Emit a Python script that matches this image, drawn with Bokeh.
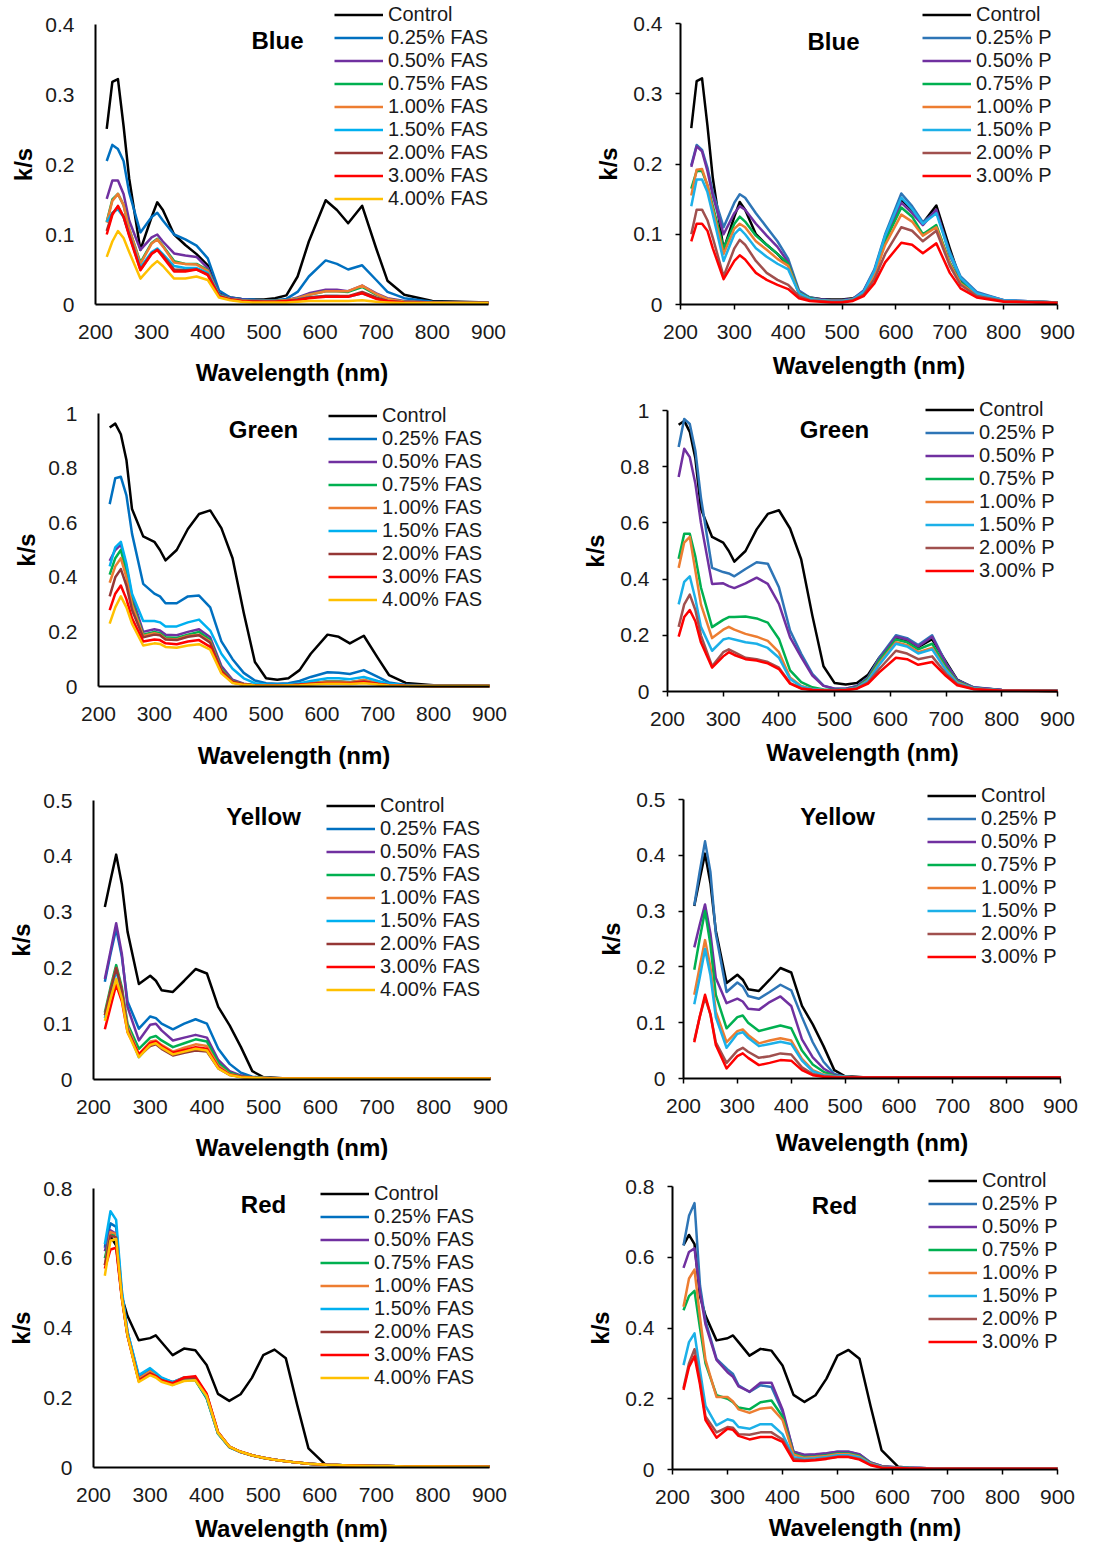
import math
from bokeh.plotting import figure
from bokeh.layouts import row, column
from bokeh.models import Range1d, FixedTicker, CustomJSTickFormatter, Legend, LegendItem, Label
from bokeh.embed import file_html
from bokeh.resources import INLINE

# ---------------- data ----------------
WAVELENGTH = [220, 230, 240, 250, 260, 280, 300, 310, 320, 340, 360, 380, 400, 420, 440,
              460, 480, 500, 520, 540, 560, 580, 610, 630, 650, 675, 700, 720, 750, 800, 900]
X_TICKS = [200, 300, 400, 500, 600, 700, 800, 900]

FAS_LABELS = ["Control", "0.25% FAS", "0.50% FAS", "0.75% FAS", "1.00% FAS",
              "1.50% FAS", "2.00% FAS", "3.00% FAS", "4.00% FAS"]
P_LABELS = ["Control", "0.25% P", "0.50% P", "0.75% P", "1.00% P",
            "1.50% P", "2.00% P", "3.00% P"]
FAS_COLORS = ["#000000", "#0070C0", "#7030A0", "#00B050", "#ED7D31",
              "#00B0F0", "#953735", "#FF0000", "#FFC000"]
P_COLORS = ["#000000", "#2E75B6", "#7030A0", "#00B050", "#ED7D31",
            "#1CB0E8", "#A0504E", "#FF0000"]

# Blue
BLUE_CONTROL = [0.251, 0.318, 0.322, 0.255, 0.180, 0.078, 0.125, 0.146, 0.135, 0.100, 0.085, 0.072, 0.056, 0.016, 0.010,
                0.008, 0.007, 0.007, 0.009, 0.013, 0.040, 0.090, 0.149, 0.135, 0.116, 0.141, 0.080, 0.034, 0.014, 0.005, 0.003]
BF025 = [0.205, 0.228, 0.222, 0.205, 0.160, 0.103, 0.125, 0.131, 0.120, 0.100, 0.093, 0.084, 0.066, 0.020, 0.010,
         0.008, 0.007, 0.006, 0.006, 0.008, 0.018, 0.040, 0.063, 0.058, 0.050, 0.056, 0.035, 0.018, 0.009, 0.004, 0.002]
BF050 = [0.151, 0.177, 0.177, 0.158, 0.120, 0.078, 0.096, 0.100, 0.090, 0.073, 0.070, 0.068, 0.052, 0.015, 0.009,
         0.007, 0.006, 0.005, 0.005, 0.006, 0.010, 0.016, 0.021, 0.021, 0.019, 0.027, 0.016, 0.009, 0.005, 0.003, 0.002]
BF075 = [0.118, 0.150, 0.158, 0.142, 0.108, 0.060, 0.088, 0.094, 0.084, 0.062, 0.058, 0.058, 0.049, 0.014, 0.008,
         0.006, 0.005, 0.005, 0.005, 0.006, 0.009, 0.014, 0.019, 0.019, 0.018, 0.025, 0.014, 0.008, 0.004, 0.003, 0.002]
BF100 = [0.117, 0.148, 0.158, 0.142, 0.108, 0.058, 0.087, 0.093, 0.083, 0.060, 0.058, 0.057, 0.048, 0.013, 0.008,
         0.006, 0.005, 0.005, 0.005, 0.006, 0.009, 0.014, 0.019, 0.019, 0.019, 0.027, 0.015, 0.008, 0.004, 0.003, 0.002]
BF150 = [0.118, 0.131, 0.136, 0.125, 0.100, 0.053, 0.075, 0.080, 0.072, 0.055, 0.052, 0.052, 0.045, 0.013, 0.007,
         0.005, 0.005, 0.004, 0.004, 0.005, 0.007, 0.010, 0.012, 0.012, 0.011, 0.016, 0.009, 0.005, 0.003, 0.002, 0.002]
BF200 = [0.105, 0.130, 0.140, 0.126, 0.100, 0.050, 0.073, 0.078, 0.070, 0.050, 0.049, 0.050, 0.043, 0.012, 0.007,
         0.005, 0.005, 0.004, 0.004, 0.005, 0.007, 0.010, 0.012, 0.012, 0.012, 0.018, 0.010, 0.005, 0.003, 0.002, 0.002]
BF300 = [0.100, 0.128, 0.141, 0.125, 0.098, 0.049, 0.072, 0.078, 0.068, 0.047, 0.047, 0.050, 0.042, 0.012, 0.007,
         0.005, 0.004, 0.004, 0.004, 0.005, 0.006, 0.009, 0.011, 0.011, 0.011, 0.016, 0.008, 0.005, 0.003, 0.002, 0.002]
BF400 = [0.068, 0.090, 0.105, 0.095, 0.075, 0.037, 0.055, 0.062, 0.055, 0.037, 0.037, 0.040, 0.035, 0.010, 0.006,
         0.004, 0.003, 0.003, 0.003, 0.003, 0.004, 0.005, 0.005, 0.005, 0.005, 0.006, 0.004, 0.003, 0.002, 0.002, 0.002]
BP025 = [0.198, 0.227, 0.220, 0.195, 0.160, 0.110, 0.145, 0.157, 0.152, 0.130, 0.110, 0.090, 0.065, 0.020, 0.010,
         0.007, 0.006, 0.006, 0.008, 0.020, 0.050, 0.100, 0.158, 0.140, 0.117, 0.133, 0.075, 0.040, 0.018, 0.006, 0.003]
BP050 = [0.196, 0.225, 0.218, 0.190, 0.155, 0.100, 0.130, 0.140, 0.135, 0.115, 0.098, 0.082, 0.060, 0.018, 0.009,
         0.007, 0.006, 0.006, 0.008, 0.019, 0.048, 0.095, 0.145, 0.130, 0.113, 0.135, 0.070, 0.037, 0.016, 0.006, 0.003]
BP075 = [0.165, 0.190, 0.190, 0.170, 0.140, 0.080, 0.115, 0.125, 0.118, 0.098, 0.085, 0.072, 0.058, 0.017, 0.009,
         0.006, 0.005, 0.005, 0.007, 0.017, 0.045, 0.090, 0.138, 0.125, 0.100, 0.113, 0.060, 0.032, 0.014, 0.005, 0.003]
BP100 = [0.155, 0.192, 0.193, 0.170, 0.135, 0.072, 0.108, 0.115, 0.110, 0.090, 0.078, 0.065, 0.055, 0.016, 0.008,
         0.006, 0.005, 0.005, 0.007, 0.016, 0.042, 0.085, 0.128, 0.118, 0.098, 0.110, 0.058, 0.030, 0.013, 0.005, 0.003]
BP150 = [0.140, 0.178, 0.178, 0.160, 0.128, 0.062, 0.100, 0.108, 0.100, 0.080, 0.068, 0.058, 0.050, 0.016, 0.008,
         0.006, 0.005, 0.005, 0.007, 0.018, 0.048, 0.098, 0.152, 0.136, 0.115, 0.130, 0.072, 0.038, 0.016, 0.006, 0.003]
BP200 = [0.100, 0.135, 0.135, 0.120, 0.095, 0.040, 0.080, 0.092, 0.085, 0.062, 0.045, 0.035, 0.028, 0.012, 0.006,
         0.005, 0.004, 0.004, 0.006, 0.014, 0.036, 0.072, 0.110, 0.105, 0.090, 0.105, 0.055, 0.028, 0.012, 0.005, 0.003]
BP300 = [0.090, 0.115, 0.115, 0.105, 0.080, 0.036, 0.062, 0.070, 0.064, 0.045, 0.035, 0.028, 0.022, 0.009, 0.005,
         0.004, 0.003, 0.003, 0.005, 0.012, 0.030, 0.060, 0.088, 0.085, 0.073, 0.087, 0.045, 0.023, 0.010, 0.004, 0.002]

# Green
GREEN_CONTROL = [0.949, 0.963, 0.924, 0.830, 0.650, 0.550, 0.530, 0.500, 0.462, 0.500, 0.577, 0.632, 0.645, 0.580, 0.470,
                 0.270, 0.090, 0.030, 0.025, 0.030, 0.060, 0.120, 0.190, 0.182, 0.158, 0.186, 0.105, 0.042, 0.013, 0.005, 0.003]
GF025 = [0.668, 0.763, 0.768, 0.700, 0.560, 0.376, 0.340, 0.330, 0.305, 0.305, 0.330, 0.333, 0.290, 0.165, 0.100,
         0.050, 0.022, 0.012, 0.010, 0.012, 0.020, 0.035, 0.052, 0.050, 0.046, 0.060, 0.035, 0.015, 0.006, 0.003, 0.002]
GF050 = [0.460, 0.500, 0.520, 0.440, 0.330, 0.200, 0.210, 0.205, 0.190, 0.188, 0.200, 0.210, 0.180, 0.075, 0.025,
         0.010, 0.005, 0.004, 0.004, 0.005, 0.008, 0.012, 0.018, 0.018, 0.016, 0.022, 0.012, 0.006, 0.003, 0.002, 0.002]
GF075 = [0.410, 0.470, 0.500, 0.420, 0.310, 0.190, 0.200, 0.195, 0.180, 0.178, 0.190, 0.200, 0.170, 0.065, 0.020,
         0.008, 0.005, 0.004, 0.004, 0.005, 0.008, 0.012, 0.018, 0.018, 0.016, 0.022, 0.012, 0.006, 0.003, 0.002, 0.002]
GF100 = [0.380, 0.440, 0.470, 0.400, 0.300, 0.185, 0.195, 0.190, 0.175, 0.172, 0.185, 0.190, 0.165, 0.060, 0.018,
         0.008, 0.004, 0.004, 0.004, 0.005, 0.008, 0.012, 0.017, 0.017, 0.015, 0.025, 0.012, 0.006, 0.003, 0.002, 0.002]
GF150 = [0.440, 0.510, 0.530, 0.450, 0.340, 0.240, 0.240, 0.235, 0.220, 0.220, 0.235, 0.245, 0.205, 0.120, 0.065,
         0.030, 0.012, 0.007, 0.006, 0.007, 0.012, 0.020, 0.030, 0.030, 0.027, 0.035, 0.020, 0.010, 0.005, 0.003, 0.002]
GF200 = [0.330, 0.400, 0.430, 0.370, 0.280, 0.180, 0.190, 0.188, 0.172, 0.170, 0.182, 0.188, 0.160, 0.058, 0.018,
         0.008, 0.004, 0.004, 0.004, 0.005, 0.007, 0.010, 0.014, 0.014, 0.013, 0.018, 0.010, 0.005, 0.003, 0.002, 0.002]
GF300 = [0.280, 0.340, 0.370, 0.320, 0.250, 0.165, 0.172, 0.170, 0.158, 0.155, 0.165, 0.170, 0.145, 0.052, 0.015,
         0.006, 0.004, 0.003, 0.003, 0.004, 0.006, 0.009, 0.012, 0.012, 0.011, 0.016, 0.009, 0.005, 0.003, 0.002, 0.002]
GF400 = [0.230, 0.290, 0.330, 0.290, 0.230, 0.150, 0.158, 0.156, 0.145, 0.142, 0.150, 0.155, 0.135, 0.048, 0.013,
         0.006, 0.004, 0.003, 0.003, 0.004, 0.005, 0.007, 0.010, 0.010, 0.009, 0.012, 0.007, 0.004, 0.002, 0.002, 0.002]
GP025 = [0.870, 0.970, 0.952, 0.857, 0.690, 0.440, 0.425, 0.420, 0.410, 0.436, 0.460, 0.455, 0.371, 0.217, 0.134,
         0.063, 0.021, 0.010, 0.010, 0.020, 0.050, 0.120, 0.200, 0.190, 0.165, 0.200, 0.100, 0.040, 0.015, 0.005, 0.003]
GP050 = [0.763, 0.864, 0.834, 0.740, 0.600, 0.383, 0.385, 0.375, 0.368, 0.385, 0.405, 0.383, 0.312, 0.193, 0.122,
         0.057, 0.020, 0.010, 0.010, 0.019, 0.048, 0.115, 0.195, 0.185, 0.160, 0.195, 0.098, 0.039, 0.014, 0.005, 0.003]
GP075 = [0.472, 0.561, 0.561, 0.480, 0.370, 0.229, 0.255, 0.265, 0.265, 0.267, 0.260, 0.245, 0.187, 0.075, 0.033,
         0.015, 0.007, 0.005, 0.007, 0.015, 0.045, 0.110, 0.185, 0.175, 0.150, 0.170, 0.085, 0.035, 0.012, 0.004, 0.002]
GP100 = [0.440, 0.530, 0.550, 0.430, 0.310, 0.190, 0.220, 0.230, 0.220, 0.205, 0.195, 0.180, 0.140, 0.050, 0.020,
         0.008, 0.005, 0.004, 0.006, 0.013, 0.040, 0.100, 0.175, 0.165, 0.140, 0.155, 0.078, 0.032, 0.011, 0.004, 0.002]
GP150 = [0.310, 0.390, 0.410, 0.330, 0.230, 0.145, 0.185, 0.190, 0.185, 0.175, 0.170, 0.155, 0.120, 0.045, 0.018,
         0.008, 0.005, 0.004, 0.006, 0.013, 0.038, 0.095, 0.170, 0.160, 0.135, 0.150, 0.075, 0.030, 0.011, 0.004, 0.002]
GP200 = [0.230, 0.310, 0.345, 0.290, 0.200, 0.090, 0.140, 0.150, 0.140, 0.120, 0.115, 0.105, 0.085, 0.030, 0.012,
         0.006, 0.004, 0.004, 0.005, 0.011, 0.032, 0.080, 0.145, 0.135, 0.115, 0.125, 0.063, 0.026, 0.009, 0.003, 0.002]
GP300 = [0.195, 0.265, 0.290, 0.250, 0.175, 0.085, 0.125, 0.140, 0.130, 0.115, 0.110, 0.100, 0.080, 0.028, 0.010,
         0.005, 0.004, 0.003, 0.005, 0.010, 0.028, 0.068, 0.120, 0.115, 0.095, 0.105, 0.055, 0.022, 0.008, 0.003, 0.002]

# Yellow
YELLOW_CONTROL = [0.309, 0.357, 0.403, 0.350, 0.265, 0.171, 0.186, 0.177, 0.160, 0.157, 0.177, 0.198, 0.190, 0.130, 0.097,
                  0.058, 0.015, 0.004, 0.003, 0.002, 0.002, 0.002, 0.002, 0.002, 0.002, 0.002, 0.002, 0.002, 0.002, 0.002, 0.002]
YF025 = [0.175, 0.225, 0.270, 0.220, 0.140, 0.091, 0.113, 0.110, 0.100, 0.090, 0.100, 0.108, 0.100, 0.055, 0.028,
         0.012, 0.005, 0.003, 0.002, 0.002, 0.002, 0.002, 0.002, 0.002, 0.002, 0.002, 0.002, 0.002, 0.002, 0.002, 0.002]
YF050 = [0.180, 0.230, 0.280, 0.225, 0.130, 0.070, 0.098, 0.100, 0.088, 0.070, 0.075, 0.080, 0.075, 0.035, 0.015,
         0.007, 0.004, 0.003, 0.002, 0.002, 0.002, 0.002, 0.002, 0.002, 0.002, 0.002, 0.002, 0.002, 0.002, 0.002, 0.002]
YF075 = [0.120, 0.165, 0.205, 0.165, 0.100, 0.055, 0.075, 0.078, 0.070, 0.058, 0.065, 0.072, 0.068, 0.030, 0.012,
         0.006, 0.004, 0.003, 0.002, 0.002, 0.002, 0.002, 0.002, 0.002, 0.002, 0.002, 0.002, 0.002, 0.002, 0.002, 0.002]
YF100 = [0.115, 0.160, 0.200, 0.160, 0.095, 0.045, 0.068, 0.070, 0.062, 0.050, 0.057, 0.063, 0.060, 0.025, 0.010,
         0.005, 0.003, 0.003, 0.002, 0.002, 0.002, 0.002, 0.002, 0.002, 0.002, 0.002, 0.002, 0.002, 0.002, 0.002, 0.002]
YF150 = [0.110, 0.155, 0.195, 0.155, 0.090, 0.040, 0.062, 0.065, 0.058, 0.045, 0.050, 0.055, 0.052, 0.022, 0.009,
         0.005, 0.003, 0.002, 0.002, 0.002, 0.002, 0.002, 0.002, 0.002, 0.002, 0.002, 0.002, 0.002, 0.002, 0.002, 0.002]
YF200 = [0.115, 0.160, 0.200, 0.160, 0.090, 0.042, 0.060, 0.063, 0.055, 0.043, 0.048, 0.052, 0.050, 0.020, 0.008,
         0.005, 0.003, 0.002, 0.002, 0.002, 0.002, 0.002, 0.002, 0.002, 0.002, 0.002, 0.002, 0.002, 0.002, 0.002, 0.002]
YF300 = [0.090, 0.130, 0.170, 0.140, 0.085, 0.045, 0.065, 0.068, 0.060, 0.048, 0.053, 0.058, 0.055, 0.022, 0.009,
         0.005, 0.003, 0.002, 0.002, 0.002, 0.002, 0.002, 0.002, 0.002, 0.002, 0.002, 0.002, 0.002, 0.002, 0.002, 0.002]
YF400 = [0.105, 0.145, 0.180, 0.145, 0.085, 0.040, 0.062, 0.065, 0.057, 0.045, 0.050, 0.055, 0.052, 0.020, 0.008,
         0.004, 0.003, 0.002, 0.002, 0.002, 0.002, 0.002, 0.002, 0.002, 0.002, 0.002, 0.002, 0.002, 0.002, 0.002, 0.002]
YP025 = [0.310, 0.370, 0.425, 0.370, 0.260, 0.155, 0.172, 0.165, 0.148, 0.143, 0.155, 0.168, 0.158, 0.110, 0.065,
         0.030, 0.008, 0.003, 0.002, 0.002, 0.002, 0.002, 0.002, 0.002, 0.002, 0.002, 0.002, 0.002, 0.002, 0.002, 0.002]
YP050 = [0.235, 0.275, 0.312, 0.260, 0.180, 0.135, 0.143, 0.138, 0.125, 0.123, 0.137, 0.147, 0.130, 0.070, 0.038,
         0.018, 0.006, 0.003, 0.002, 0.002, 0.002, 0.002, 0.002, 0.002, 0.002, 0.002, 0.002, 0.002, 0.002, 0.002, 0.002]
YP075 = [0.195, 0.250, 0.300, 0.240, 0.150, 0.090, 0.110, 0.113, 0.100, 0.085, 0.090, 0.095, 0.090, 0.050, 0.025,
         0.012, 0.005, 0.003, 0.002, 0.002, 0.002, 0.002, 0.002, 0.002, 0.002, 0.002, 0.002, 0.002, 0.002, 0.002, 0.002]
YP100 = [0.150, 0.200, 0.248, 0.200, 0.120, 0.065, 0.085, 0.088, 0.078, 0.063, 0.068, 0.072, 0.068, 0.035, 0.015,
         0.007, 0.004, 0.003, 0.002, 0.002, 0.002, 0.002, 0.002, 0.002, 0.002, 0.002, 0.002, 0.002, 0.002, 0.002, 0.002]
YP150 = [0.133, 0.180, 0.232, 0.185, 0.110, 0.055, 0.080, 0.083, 0.073, 0.058, 0.062, 0.066, 0.062, 0.032, 0.013,
         0.006, 0.004, 0.003, 0.002, 0.002, 0.002, 0.002, 0.002, 0.002, 0.002, 0.002, 0.002, 0.002, 0.002, 0.002, 0.002]
YP200 = [0.068, 0.110, 0.145, 0.115, 0.065, 0.028, 0.050, 0.055, 0.048, 0.037, 0.040, 0.045, 0.043, 0.020, 0.008,
         0.004, 0.003, 0.002, 0.002, 0.002, 0.002, 0.002, 0.002, 0.002, 0.002, 0.002, 0.002, 0.002, 0.002, 0.002, 0.002]
YP300 = [0.065, 0.110, 0.150, 0.115, 0.060, 0.018, 0.040, 0.045, 0.037, 0.024, 0.028, 0.033, 0.032, 0.015, 0.006,
         0.003, 0.002, 0.002, 0.002, 0.002, 0.002, 0.002, 0.002, 0.002, 0.002, 0.002, 0.002, 0.002, 0.002, 0.002, 0.002]

# Red
RED_CONTROL = [0.634, 0.663, 0.637, 0.490, 0.435, 0.365, 0.371, 0.379, 0.360, 0.322, 0.341, 0.336, 0.294, 0.211, 0.191,
               0.210, 0.257, 0.322, 0.338, 0.313, 0.180, 0.055, 0.008, 0.005, 0.004, 0.003, 0.003, 0.003, 0.003, 0.002, 0.002]
RF025 = [0.630, 0.700, 0.690, 0.500, 0.390, 0.260, 0.280, 0.268, 0.255, 0.245, 0.258, 0.255, 0.205, 0.100, 0.060,
         0.045, 0.035, 0.028, 0.022, 0.018, 0.014, 0.011, 0.008, 0.007, 0.006, 0.005, 0.004, 0.004, 0.003, 0.003, 0.002]
RF050 = [0.620, 0.680, 0.670, 0.495, 0.385, 0.255, 0.275, 0.265, 0.252, 0.240, 0.252, 0.252, 0.200, 0.098, 0.059,
         0.044, 0.035, 0.028, 0.022, 0.018, 0.014, 0.011, 0.008, 0.007, 0.006, 0.005, 0.004, 0.004, 0.003, 0.003, 0.002]
RF075 = [0.600, 0.670, 0.665, 0.490, 0.380, 0.250, 0.272, 0.262, 0.250, 0.238, 0.250, 0.250, 0.198, 0.097, 0.058,
         0.044, 0.034, 0.027, 0.022, 0.018, 0.014, 0.011, 0.008, 0.007, 0.006, 0.005, 0.004, 0.004, 0.003, 0.003, 0.002]
RF100 = [0.580, 0.675, 0.670, 0.495, 0.385, 0.255, 0.276, 0.266, 0.255, 0.243, 0.258, 0.258, 0.205, 0.100, 0.060,
         0.045, 0.035, 0.028, 0.022, 0.018, 0.014, 0.011, 0.008, 0.007, 0.006, 0.005, 0.004, 0.004, 0.003, 0.003, 0.002]
RF150 = [0.640, 0.735, 0.710, 0.510, 0.390, 0.265, 0.285, 0.272, 0.258, 0.245, 0.255, 0.252, 0.202, 0.098, 0.059,
         0.044, 0.035, 0.028, 0.022, 0.018, 0.014, 0.011, 0.008, 0.007, 0.006, 0.005, 0.004, 0.004, 0.003, 0.003, 0.002]
RF200 = [0.580, 0.665, 0.660, 0.490, 0.380, 0.250, 0.270, 0.262, 0.250, 0.240, 0.255, 0.258, 0.210, 0.102, 0.060,
         0.045, 0.035, 0.028, 0.022, 0.018, 0.014, 0.011, 0.008, 0.007, 0.006, 0.005, 0.004, 0.004, 0.003, 0.003, 0.002]
RF300 = [0.570, 0.625, 0.630, 0.485, 0.378, 0.248, 0.268, 0.262, 0.250, 0.242, 0.258, 0.262, 0.212, 0.102, 0.060,
         0.045, 0.035, 0.028, 0.022, 0.018, 0.014, 0.011, 0.008, 0.007, 0.006, 0.005, 0.004, 0.004, 0.003, 0.003, 0.002]
RF400 = [0.550, 0.650, 0.655, 0.488, 0.380, 0.245, 0.265, 0.258, 0.246, 0.236, 0.248, 0.250, 0.205, 0.100, 0.060,
         0.045, 0.035, 0.028, 0.022, 0.018, 0.014, 0.011, 0.008, 0.007, 0.006, 0.005, 0.004, 0.004, 0.003, 0.003, 0.002]
RP025 = [0.633, 0.717, 0.753, 0.520, 0.420, 0.313, 0.283, 0.270, 0.238, 0.219, 0.238, 0.233, 0.163, 0.050, 0.040,
         0.042, 0.045, 0.050, 0.050, 0.042, 0.020, 0.010, 0.006, 0.005, 0.004, 0.003, 0.003, 0.003, 0.002, 0.002, 0.002]
RP050 = [0.570, 0.615, 0.625, 0.500, 0.410, 0.310, 0.275, 0.262, 0.235, 0.220, 0.245, 0.245, 0.170, 0.050, 0.042,
         0.043, 0.046, 0.050, 0.050, 0.043, 0.020, 0.010, 0.006, 0.005, 0.004, 0.003, 0.003, 0.003, 0.002, 0.002, 0.002]
RP075 = [0.450, 0.490, 0.505, 0.400, 0.300, 0.210, 0.200, 0.190, 0.175, 0.170, 0.190, 0.195, 0.150, 0.045, 0.035,
         0.037, 0.040, 0.045, 0.045, 0.038, 0.018, 0.008, 0.005, 0.004, 0.003, 0.003, 0.003, 0.002, 0.002, 0.002, 0.002]
RP100 = [0.460, 0.540, 0.565, 0.430, 0.310, 0.205, 0.205, 0.192, 0.170, 0.160, 0.172, 0.175, 0.140, 0.042, 0.033,
         0.035, 0.038, 0.043, 0.043, 0.036, 0.017, 0.008, 0.005, 0.004, 0.003, 0.003, 0.003, 0.002, 0.002, 0.002, 0.002]
RP150 = [0.295, 0.360, 0.385, 0.280, 0.180, 0.125, 0.142, 0.138, 0.120, 0.115, 0.128, 0.128, 0.100, 0.035, 0.030,
         0.032, 0.035, 0.040, 0.040, 0.034, 0.016, 0.007, 0.005, 0.004, 0.003, 0.003, 0.002, 0.002, 0.002, 0.002, 0.002]
RP200 = [0.230, 0.300, 0.340, 0.250, 0.150, 0.105, 0.120, 0.118, 0.100, 0.098, 0.105, 0.105, 0.085, 0.030, 0.026,
         0.028, 0.032, 0.036, 0.036, 0.030, 0.014, 0.006, 0.004, 0.003, 0.003, 0.002, 0.002, 0.002, 0.002, 0.002, 0.002]
RP300 = [0.225, 0.290, 0.320, 0.240, 0.140, 0.090, 0.115, 0.112, 0.095, 0.085, 0.092, 0.092, 0.078, 0.025, 0.024,
         0.026, 0.030, 0.035, 0.035, 0.028, 0.012, 0.005, 0.004, 0.003, 0.003, 0.002, 0.002, 0.002, 0.002, 0.002, 0.002]

BLUE_Y_TICKS = [0, 0.1, 0.2, 0.3, 0.4]
GREEN_Y_TICKS = [0, 0.2, 0.4, 0.6, 0.8, 1]
YELLOW_Y_TICKS = [0, 0.1, 0.2, 0.3, 0.4, 0.5]
RED_Y_TICKS = [0, 0.2, 0.4, 0.6, 0.8]

FONT = "Liberation Sans"
TXT = "#1a1a1a"
ROW_H = 23  # rendered height of one legend row


def make_panel(title, series, labels, colors, yticks, fig_w, fig_h, frame, title_px,
               legend_px, xlabel_off, tick_out):
    """frame = (left, right, top, bottom) pixel positions of the x=200..900 / y=0..ymax box."""
    fl, fr, ft, fb = frame
    ymax = yticks[-1]

    def xd(px):
        return 200 + (px - fl) * 700.0 / (fr - fl)

    def yd(py):
        return ymax * (fb - py) / (fb - ft)

    p = figure(width=fig_w, height=fig_h,
               x_range=Range1d(xd(0), xd(fig_w)), y_range=Range1d(yd(fig_h), yd(0)),
               output_backend="svg", toolbar_location=None, min_border=0)
    p.outline_line_color = None
    p.xgrid.visible = False
    p.ygrid.visible = False
    p.xaxis.fixed_location = 0
    p.yaxis.fixed_location = 200
    p.xaxis.bounds = (200, 900)
    p.yaxis.bounds = (0, ymax)
    p.xaxis.ticker = FixedTicker(ticks=X_TICKS)
    p.yaxis.ticker = FixedTicker(ticks=yticks)
    p.yaxis.formatter = CustomJSTickFormatter(code="return String(Math.round(tick*1000)/1000);")
    for ax in (p.xaxis[0], p.yaxis[0]):
        ax.axis_line_width = 2
        ax.axis_line_color = "black"
        ax.major_tick_out = tick_out
        ax.major_tick_in = 0
        ax.major_tick_line_width = 1.5
        ax.minor_tick_out = 0
        ax.minor_tick_in = 0
        ax.major_label_text_font = FONT
        ax.major_label_text_font_size = "21px"
        ax.major_label_text_color = TXT
    p.xaxis.major_label_standoff = 20 - tick_out
    p.yaxis.major_label_standoff = (21 if tick_out == 0 else 13)

    items = []
    for vals, lab, col in zip(series, labels, colors):
        r = p.line(WAVELENGTH, vals, line_color=col, line_width=2.5, line_join="round")
        items.append(LegendItem(label=lab, renderers=[r]))

    gx, first_row, spacing = legend_px
    n = len(labels)
    center = first_row + (n - 1) * spacing / 2.0
    top = max(center - n * ROW_H / 2.0, 3.0)
    bottom = top + n * ROW_H
    leg = Legend(items=items, location=(gx, fig_h - bottom), padding=0, margin=0, spacing=0,
                 label_height=ROW_H, glyph_height=ROW_H, glyph_width=49, label_standoff=5,
                 label_text_font=FONT, label_text_font_size="20px", label_text_color=TXT,
                 label_text_line_height=1.0,
                 border_line_alpha=0, background_fill_alpha=0)
    p.add_layout(leg)

    p.add_layout(Label(x=xd(title_px[0]), y=yd(title_px[1]), text=title, text_font=FONT,
                       text_font_style="bold", text_font_size="24px", text_color="black",
                       text_align="center", text_baseline="middle"))
    p.add_layout(Label(x=550, y=yd(fb + xlabel_off), text="Wavelength (nm)", text_font=FONT,
                       text_font_style="bold", text_font_size="24px", text_color="black",
                       text_align="center", text_baseline="middle"))
    p.add_layout(Label(x=xd(fl - 72), y=ymax / 2.0, text="k/s", angle=math.pi / 2, text_font=FONT,
                       text_font_style="bold", text_font_size="24px", text_color="black",
                       text_align="center", text_baseline="middle"))
    return p


LW, RW = 564, 551
p1 = make_panel("Blue", [BLUE_CONTROL, BF025, BF050, BF075, BF100, BF150, BF200, BF300, BF400],
                FAS_LABELS, FAS_COLORS, BLUE_Y_TICKS, LW, 386, (95, 488, 24, 304), (277, 40),
                (334, 17.3, 21.6), 68, 0)
p2 = make_panel("Blue", [BLUE_CONTROL, BP025, BP050, BP075, BP100, BP150, BP200, BP300],
                P_LABELS, P_COLORS, BLUE_Y_TICKS, RW, 386, (116, 493, 23, 304), (269, 41),
                (358, 15.7, 22.3), 61, 5)
p3 = make_panel("Green", [GREEN_CONTROL, GF025, GF050, GF075, GF100, GF150, GF200, GF300, GF400],
                FAS_LABELS, FAS_COLORS, GREEN_Y_TICKS, LW, 386, (98, 489, 27, 300), (263, 43),
                (328, 29, 23), 69, 0)
p4 = make_panel("Green", [GREEN_CONTROL, GP025, GP050, GP075, GP100, GP150, GP200, GP300],
                P_LABELS, P_COLORS, GREEN_Y_TICKS, RW, 386, (103, 493, 24, 305), (270, 43),
                (361, 26.7, 22), 61, 5)
p5 = make_panel("Yellow", [YELLOW_CONTROL, YF025, YF050, YF075, YF100, YF150, YF200, YF300, YF400],
                FAS_LABELS, FAS_COLORS, YELLOW_Y_TICKS, LW, 388, (93, 490, 28, 307), (263, 44),
                (326, 39.7, 21.5), 68, 0)
p6 = make_panel("Yellow", [YELLOW_CONTROL, YP025, YP050, YP075, YP100, YP150, YP200, YP300],
                P_LABELS, P_COLORS, YELLOW_Y_TICKS, RW, 388, (119, 496, 27, 306), (273, 44),
                (363, 29.7, 21.2), 64, 5)
p7 = make_panel("Red", [RED_CONTROL, RF025, RF050, RF075, RF100, RF150, RF200, RF300, RF400],
                FAS_LABELS, FAS_COLORS, RED_Y_TICKS, LW, 387, (93, 489, 28, 307), (263, 44),
                (320, 40, 21.25), 61, 0)
p8 = make_panel("Red", [RED_CONTROL, RP025, RP050, RP075, RP100, RP150, RP200, RP300],
                P_LABELS, P_COLORS, RED_Y_TICKS, RW, 387, (108, 493, 26, 309), (270, 45),
                (364, 20.7, 22.8), 58, 5)

layout = column(row(p1, p2), row(p3, p4), row(p5, p6), row(p7, p8))
open("out.html", "w").write(file_html(layout, INLINE))
